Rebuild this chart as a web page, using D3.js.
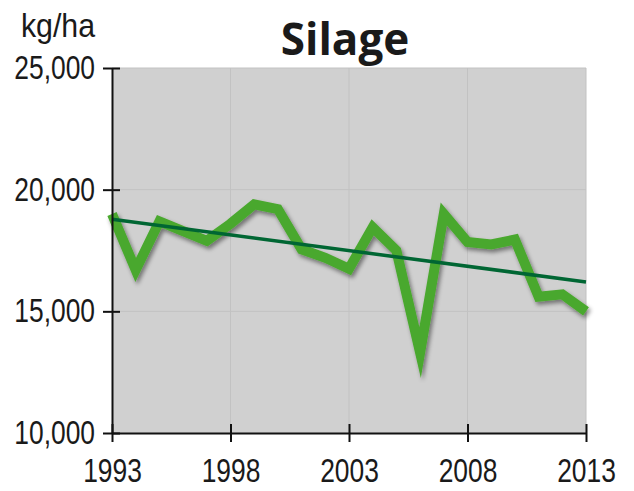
<!DOCTYPE html>
<html>
<head>
<meta charset="utf-8">
<script src="https://cdn.jsdelivr.net/npm/d3@7"></script>
<style>
  body { margin: 0; background: #fff; }
  .lbl { font-family: "Liberation Sans", Arial, sans-serif; font-size: 33px; fill: #1a1a1a; }
  .title { font-family: "Open Sans", sans-serif; font-weight: 700; font-size: 44px; fill: #1a1a1a; }
</style>
</head>
<body>
<div id="chart"></div>
<script>
var years = [1993, 1994, 1995, 1996, 1997, 1998, 1999, 2000, 2001, 2002, 2003,
             2004, 2005, 2006, 2007, 2008, 2009, 2010, 2011, 2012, 2013];
var yields = [19000, 16700, 18700, 18300, 17900, 18600, 19400, 19200, 17550, 17200, 16750,
              18450, 17500, 13300, 19000, 17850, 17750, 17950, 15600, 15700, 15000];
var yTicks = [10000, 15000, 20000, 25000];
var xTicks = [1993, 1998, 2003, 2008, 2013];

var margin = {top: 68, right: 48, bottom: 58, left: 112};
var width = 634 - margin.left - margin.right;
var height = 491 - margin.top - margin.bottom;
var narrow = 0.8; // condensed look for the labels

var data = years.map((d, i) => ({year: d, value: yields[i]}));

var svg = d3.select("#chart").append("svg")
    .attr("width", 634)
    .attr("height", 491);

var defs = svg.append("defs");
var f = defs.append("filter").attr("id", "shadow")
    .attr("x", "-10%").attr("y", "-10%").attr("width", "120%").attr("height", "130%");
f.append("feDropShadow").attr("dx", 2).attr("dy", 3)
    .attr("stdDeviation", 2).attr("flood-color", "#000").attr("flood-opacity", 0.45);

var x = d3.scaleLinear().domain([1993, 2013]).range([0, width]);
var y = d3.scaleLinear().domain([10000, 25000]).range([height, 0]);

var g = svg.append("g").attr("transform", "translate(" + margin.left + "," + margin.top + ")");

g.append("rect")
    .attr("width", width).attr("height", height)
    .attr("fill", "#d0d0d0");

// grid
g.selectAll(".vgrid").data(xTicks.slice(1)).enter().append("line")
    .attr("x1", d => x(d)).attr("x2", d => x(d))
    .attr("y1", 0).attr("y2", height)
    .attr("stroke", "#c2c2c2").attr("stroke-width", 1);
g.selectAll(".hgrid").data(yTicks.slice(1)).enter().append("line")
    .attr("x1", 0).attr("x2", width)
    .attr("y1", d => y(d)).attr("y2", d => y(d))
    .attr("stroke", "#c2c2c2").attr("stroke-width", 1);

// trend (least squares)
var mx = d3.mean(years), my = d3.mean(yields);
var slope = d3.sum(data, d => (d.year - mx) * (d.value - my)) / d3.sum(years, d => (d - mx) * (d - mx));
var trend = [1993, 2013].map(t => ({year: t, value: my + slope * (t - mx)}));

var line = d3.line().x(d => x(d.year)).y(d => y(d.value));

g.append("path")
    .datum(data)
    .attr("d", line)
    .attr("fill", "none")
    .attr("stroke", "#4aa82e")
    .attr("stroke-width", 10)
    .attr("stroke-linejoin", "miter")
    .attr("stroke-miterlimit", 12)
    .attr("filter", "url(#shadow)");

g.append("path")
    .datum(trend)
    .attr("d", line)
    .attr("fill", "none")
    .attr("stroke", "#006633")
    .attr("stroke-width", 3.5);

// axes
var yAxis = g.append("g")
    .call(d3.axisLeft(y).tickValues(yTicks).tickFormat(d3.format(",")).tickSize(9).tickSizeOuter(0).tickPadding(8));
var xAxis = g.append("g")
    .attr("transform", "translate(0," + height + ")")
    .call(d3.axisBottom(x).tickValues(xTicks).tickFormat(d3.format("d")).tickSize(9).tickSizeOuter(0).tickPadding(17));

yAxis.selectAll(".tick line").attr("x2", -9).attr("x1", 8);
xAxis.selectAll(".tick line").attr("y1", -9).attr("y2", 9);
[yAxis, xAxis].forEach(a => {
  a.attr("font-size", null).attr("font-family", null);
  a.select(".domain").attr("stroke", "#111").attr("stroke-width", 2);
  a.selectAll(".tick line").attr("stroke", "#111").attr("stroke-width", 2);
  a.selectAll("text").attr("class", "lbl").attr("fill", null)
    .attr("transform", "scale(" + narrow + ",1)");
});
yAxis.selectAll("text").attr("x", -17 / narrow);

svg.append("text").attr("class", "lbl")
    .attr("font-size", 30)
    .attr("transform", "translate(58,37) scale(0.92,1)")
    .attr("text-anchor", "middle")
    .text("kg/ha");

svg.append("text").attr("class", "title")
    .attr("x", 345).attr("y", 55).attr("text-anchor", "middle")
    .text("Silage");
</script>
</body>
</html>
